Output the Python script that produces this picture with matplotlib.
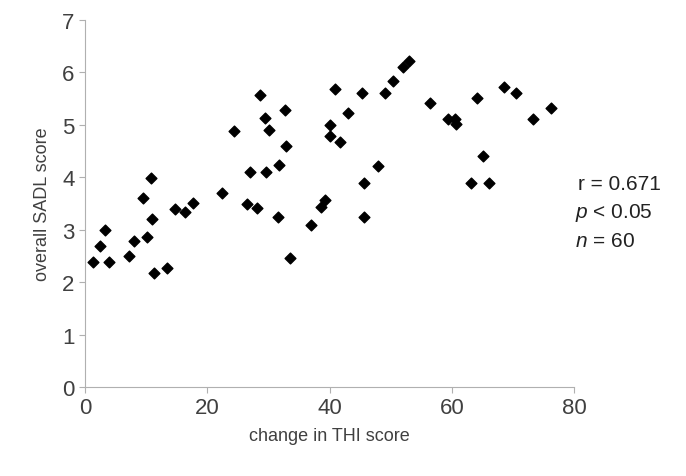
import matplotlib
matplotlib.use("Agg")
import matplotlib.pyplot as plt

plt.rcParams['font.family'] = ['Liberation Sans', 'DejaVu Sans']
plt.rcParams['mathtext.fontset'] = 'custom'
plt.rcParams['mathtext.it'] = 'Liberation Sans:italic'

thi = [1.3,2.5,3.3,3.9,7.2,8.0,9.5,10.1,10.8,11.0,11.3,13.4,14.7,16.4,17.7,22.4,24.4,26.5,27.0,28.1,
       28.6,29.4,29.6,30.1,31.6,31.8,32.7,32.9,33.6,37.0,38.6,39.3,40.1,40.1,40.9,41.7,43.0,45.3,45.7,45.7,
       48.0,49.1,50.4,52.0,53.0,56.5,59.4,60.6,60.7,63.2,64.2,65.1,66.1,68.6,70.5,73.3,76.3]
sadl = [2.39,2.69,2.99,2.39,2.50,2.79,3.61,2.86,3.99,3.21,2.18,2.27,3.40,3.34,3.51,3.70,4.89,3.49,4.10,3.42,
        5.57,5.13,4.10,4.90,3.24,4.24,5.29,4.60,2.46,3.09,3.44,3.57,5.00,4.79,5.69,4.68,5.23,5.61,3.89,3.24,
        4.22,5.61,5.84,6.11,6.22,5.42,5.11,5.11,5.02,3.89,5.52,4.41,3.89,5.73,5.61,5.11,5.32]

fig = plt.figure(figsize=(6.86, 4.77), dpi=100)
ax = fig.add_axes([85/686, 1-388/477, 489/686, 367/477])
ax.scatter(thi, sadl, marker="D", s=30, color="black", clip_on=False)
ax.set_xlim(0, 80)
ax.set_ylim(0, 7)
ax.set_xticks(range(0, 81, 20))
ax.set_yticks(range(0, 8))
for s in ["top", "right"]:
    ax.spines[s].set_visible(False)
for s in ["left", "bottom"]:
    ax.spines[s].set_color("#b0b0b0")
ax.tick_params(colors="#b0b0b0", labelcolor="#404040", labelsize=16, length=4)
ax.set_xlabel("change in THI score", fontsize=13, color="#404040", labelpad=6)
ax.set_ylabel("overall SADL score", fontsize=13, color="#404040", labelpad=8)
fig.text(578/686, 1-185/477, "r = 0.671", fontsize=15, va="center", color="#222222")
fig.text(575/686, 1-213/477, r"$p$ < 0.05", fontsize=15, va="center", color="#222222")
fig.text(575/686, 1-242/477, r"$n$ = 60", fontsize=15, va="center", color="#222222")
fig.savefig("out.png", dpi=100)
